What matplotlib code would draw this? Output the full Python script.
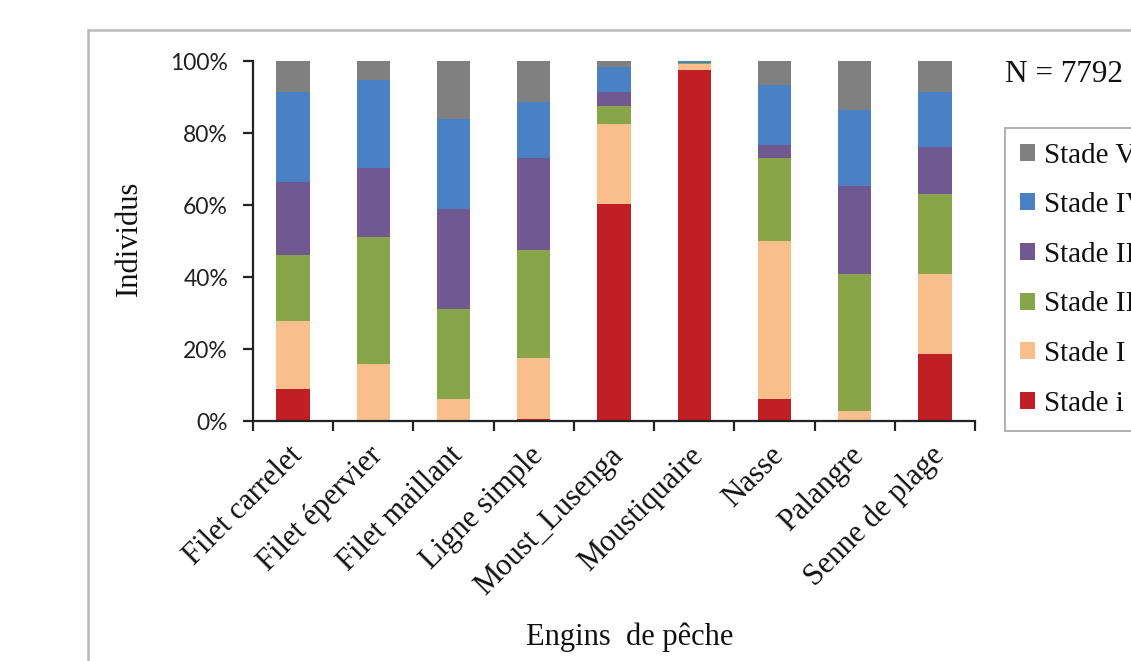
import matplotlib
matplotlib.use("Agg")
import matplotlib.pyplot as plt
import matplotlib.transforms as mtransforms
from matplotlib.patches import Patch, Rectangle
from matplotlib.ticker import FixedLocator, FuncFormatter

# Data (percent of individuals per gear)
gears = ["Filet carrelet", "Filet épervier", "Filet maillant", "Ligne simple",
         "Moust_Lusenga", "Moustiquaire", "Nasse", "Palangre", "Senne de plage"]
stade_i = [9.0, 0.0, 0.0, 0.6, 60.2, 97.6, 6.1, 0.0, 18.7]
stade_I = [18.8, 15.9, 6.1, 17.0, 22.2, 1.6, 43.9, 2.8, 22.2]
stade_II = [18.2, 35.2, 25.1, 30.0, 5.0, 0.2, 23.1, 38.1, 22.1]
stade_III = [20.4, 19.3, 27.8, 25.5, 4.0, 0.1, 3.5, 24.3, 13.1]
stade_IV = [25.0, 24.4, 25.0, 15.5, 6.9, 0.5, 16.6, 21.1, 15.3]
stade_V = [8.6, 5.2, 16.0, 11.4, 1.7, 0.0, 6.8, 13.7, 8.6]

series = [
    ("Stade i", stade_i, "#c01f24"),
    ("Stade I", stade_I, "#f8bf8d"),
    ("Stade II", stade_II, "#88a54a"),
    ("Stade III", stade_III, "#705891"),
    ("Stade IV", stade_IV, "#4a80c4"),
    ("Stade V", stade_V, "#808080"),
]

W, H = 1131, 661
serif = ["Liberation Serif", "DejaVu Serif"]
ink = "#111111"

fig = plt.figure(figsize=(W / 100, H / 100), dpi=100)
ax = fig.add_axes([253 / W, 1 - 421 / H, (975 - 253) / W, (421 - 61) / H])

x = list(range(len(gears)))
bottom = [0.0] * len(gears)
for label, vals, color in series:
    ax.bar(x, vals, width=0.415, bottom=bottom, color=color, linewidth=0, label=label)
    bottom = [b + v for b, v in zip(bottom, vals)]

ax.set_xlim(-0.5, len(gears) - 0.5)
ax.set_ylim(0, 100)
for s in ("top", "right"):
    ax.spines[s].set_visible(False)
for s in ("left", "bottom"):
    ax.spines[s].set_linewidth(1.6)
    ax.spines[s].set_color("#222222")

ax.set_yticks([0, 20, 40, 60, 80, 100])
ax.yaxis.set_major_formatter(FuncFormatter(lambda v, _: f"{v:.0f}%"))
ax.tick_params(axis="y", length=7, width=1.6, pad=11, labelsize=16.5, color="#222222")
for t in ax.get_yticklabels():
    t.set_family("Lato")
    t.set_color("#222222")

ax.xaxis.set_minor_locator(FixedLocator([i - 0.5 for i in range(len(gears) + 1)]))
ax.tick_params(axis="x", which="minor", length=7, width=1.6, color="#222222")
ax.set_xticks(x)
ax.set_xticklabels(gears)
ax.tick_params(axis="x", which="major", length=0, pad=22)
offset = mtransforms.ScaledTranslation(5 / 100, 0, fig.dpi_scale_trans)
for t in ax.get_xticklabels():
    t.set_rotation(45)
    t.set_ha("right")
    t.set_va("center")
    t.set_rotation_mode("anchor")
    t.set_family(serif)
    t.set_fontsize(22)
    t.set_color(ink)
    t.set_transform(t.get_transform() + offset)

fig.text(129 / W, 1 - 238 / H, "Individus", rotation=90, ha="center", va="center",
         family=serif, fontsize=22, color=ink)
fig.text(630 / W, 1 - 637 / H, "Engins  de pêche", ha="center", va="center",
         family=serif, fontsize=22, color=ink)
fig.text(1005 / W, 1 - 75 / H, "N = 7792", ha="left", va="center",
         family=serif, fontsize=22.5, color=ink)

handles = [Patch(facecolor=c, edgecolor="none", label=l) for l, _, c in reversed(series)]
leg = fig.legend(handles=handles, loc="upper left",
                 bbox_to_anchor=(1005 / W, 1 - 128 / H), bbox_transform=fig.transFigure,
                 borderaxespad=0, frameon=True, fancybox=False,
                 prop={"family": serif, "size": 21},
                 handlelength=0.52, handleheight=0.52, handletextpad=0.3,
                 labelspacing=0.81, borderpad=0.5)
leg.get_frame().set_edgecolor("#8c8c8c")
leg.get_frame().set_linewidth(1.2)
for t in leg.get_texts():
    t.set_color(ink)

fig.add_artist(Rectangle((88 / W, -0.1), 1.0, (1 - 30 / H) + 0.1, transform=fig.transFigure,
                         fill=False, edgecolor="#b8b8b8", linewidth=1.8))

fig.savefig("out.png", dpi=100)
